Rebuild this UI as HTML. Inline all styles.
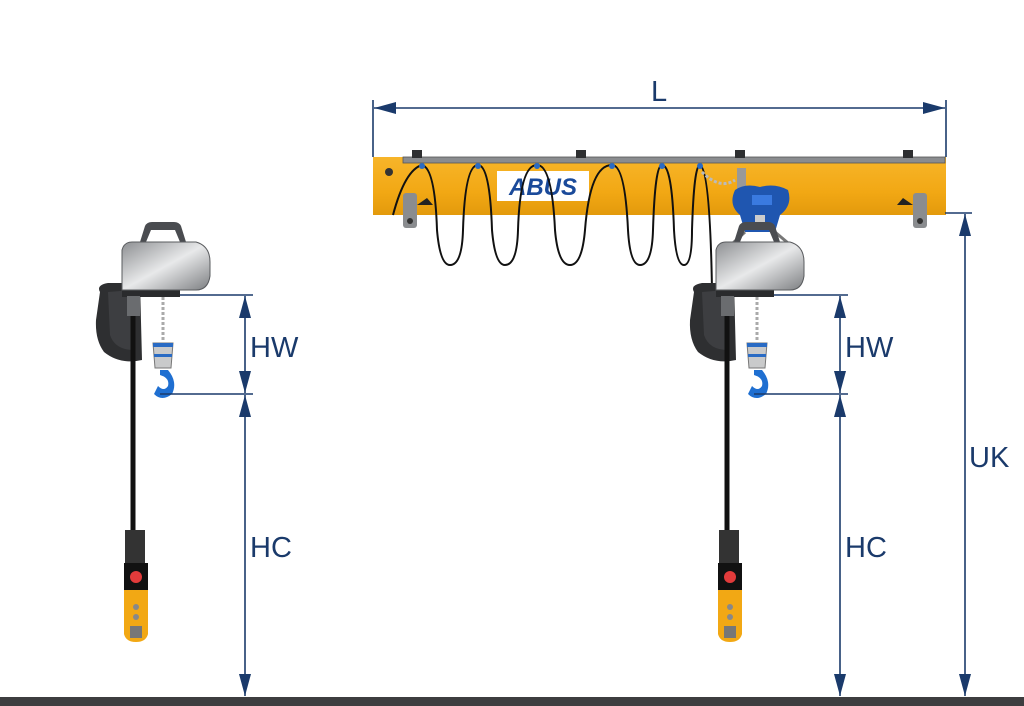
<!DOCTYPE html>
<html><head><meta charset="utf-8"><style>
html,body{margin:0;padding:0;background:#fff;width:1024px;height:706px;overflow:hidden}
text{font-family:"Liberation Sans",sans-serif;font-weight:300}
</style></head><body>
<svg width="1024" height="706" viewBox="0 0 1024 706" xmlns="http://www.w3.org/2000/svg">
<defs>
<linearGradient id="gb" x1="0" y1="0" x2="1" y2="1">
<stop offset="0" stop-color="#8d8f92"/><stop offset="0.5" stop-color="#e8e9ea"/><stop offset="1" stop-color="#7d7f82"/></linearGradient>
<linearGradient id="yb" x1="0" y1="0" x2="0" y2="1">
<stop offset="0" stop-color="#f7b52a"/><stop offset="0.6" stop-color="#f2a814"/><stop offset="1" stop-color="#e39a0c"/></linearGradient>
<marker id="a" viewBox="0 0 22 12" refX="22" refY="6" markerWidth="22" markerHeight="12" orient="auto-start-reverse" markerUnits="userSpaceOnUse">
<path d="M0,0 L22,6 L0,12 z" fill="#1a3a6b"/></marker>
<g id="hoist">
<path d="M140,242 L145,226 Q147,222 152,222 L174,222 Q179,222 181,226 L186,242 L180,242 L175,230 L151,230 L146,242 z" fill="#4a4c50"/>
<path d="M100,292 Q96,285 108,283 L140,283 L142,360 Q120,365 104,352 Q95,340 96,320 z" fill="#2e2f31"/>
<path d="M108,292 L132,290 L134,350 Q115,350 110,335 z" fill="#3d3e41"/>
<rect x="122" y="282" width="58" height="15" fill="#2a2b2d"/>
<path d="M122,250 Q124,242 132,242 L196,242 Q210,246 210,262 L210,276 Q208,290 196,290 L122,290 z" fill="url(#gb)" stroke="#5a5c5f" stroke-width="1"/>
<rect x="127" y="296" width="13" height="20" fill="#6a6c6f"/>
<line x1="133" y1="316" x2="133" y2="530" stroke="#111" stroke-width="5"/>
<line x1="163" y1="297" x2="163" y2="342" stroke="#aaa" stroke-width="3" stroke-dasharray="3,2"/>
<path d="M153,343 L173,343 L171,368 L155,368 z" fill="#c9cacb" stroke="#777"/>
<rect x="153" y="343" width="20" height="4" fill="#2a6bc4"/>
<rect x="154" y="354" width="18" height="3" fill="#2a6bc4"/>
<path d="M160,370 L168,370 Q178,382 172,394 Q162,402 154,394 L158,386 Q164,392 168,386 Q170,378 160,375 z" fill="#1f6fd1"/>
<rect x="125" y="530" width="20" height="35" fill="#333"/>
<rect x="124" y="563" width="24" height="28" fill="#111"/>
<circle cx="136" cy="577" r="6" fill="#e23b3b"/>
<path d="M124,590 L148,590 L148,634 Q146,642 136,642 Q126,642 124,634 z" fill="#f2a814"/>
<circle cx="136" cy="607" r="3" fill="#888"/><circle cx="136" cy="617" r="3" fill="#888"/>
<rect x="130" y="626" width="12" height="12" fill="#777"/>
</g>
</defs>

<rect x="373" y="157" width="573" height="58" fill="url(#yb)"/>
<rect x="403" y="157" width="542" height="6" fill="#8a8c8f" stroke="#555" stroke-width="0.8"/>
<g fill="#2e2f31">
<rect x="412" y="150" width="10" height="8"/><rect x="576" y="150" width="10" height="8"/><rect x="735" y="150" width="10" height="8"/><rect x="903" y="150" width="10" height="8"/>
</g>
<circle cx="389" cy="172" r="4" fill="#333"/>
<rect x="403" y="193" width="14" height="35" rx="3" fill="#8a8c8f"/><circle cx="410" cy="221" r="3" fill="#333"/>
<rect x="913" y="193" width="14" height="35" rx="3" fill="#8a8c8f"/><circle cx="920" cy="221" r="3" fill="#333"/>
<path d="M417,205 L427,198 L433,205 z" fill="#222"/><path d="M913,205 L903,198 L897,205 z" fill="#222"/>
<rect x="497" y="171" width="92" height="30" fill="#fff"/>
<text x="543" y="195" text-anchor="middle" font-size="24" font-style="italic" fill="#1a4a9a" style="font-weight:bold">ABUS</text>
<path d="M393,215 Q405,170 422,165 Q435,168 437,230 Q440,265 450,265 Q462,265 463,230 Q465,165 478,165 Q490,165 492,230 Q495,265 505,265 Q517,265 518,230 Q520,165 537,165 Q552,165 555,230 Q558,265 570,265 Q582,265 585,230 Q590,165 612,165 Q625,165 628,230 Q630,265 640,265 Q652,265 653,230 Q655,165 662,165 Q672,165 674,230 Q676,265 684,265 Q692,265 692,230 Q694,165 700,165 Q710,170 712,290" fill="none" stroke="#111" stroke-width="2"/>
<g fill="#2a6bc4"><circle cx="422" cy="166" r="3"/><circle cx="478" cy="166" r="3"/><circle cx="537" cy="166" r="3"/><circle cx="612" cy="166" r="3"/><circle cx="662" cy="166" r="3"/><circle cx="700" cy="166" r="3"/></g>
<path d="M702,172 Q720,190 735,180" fill="none" stroke="#bbb" stroke-width="3" stroke-dasharray="3,2"/>
<rect x="737" y="168" width="9" height="30" fill="#999"/>
<path d="M735,190 Q745,183 760,187 Q775,183 788,190 Q793,205 780,215 L775,232 L745,232 L740,215 Q728,205 735,190 z" fill="#1f56b0"/>
<rect x="752" y="195" width="20" height="10" fill="#3a7ae0"/>
<path d="M745,232 L733,243 M775,232 L788,243" stroke="#777" stroke-width="3"/>
<rect x="755" y="215" width="10" height="15" fill="#ccc"/>

<use href="#hoist"/>
<use href="#hoist" transform="translate(594,0)"/>

<g stroke="#1a3a6b" stroke-width="1.6" fill="none">
<line x1="373" y1="100" x2="373" y2="157"/><line x1="946" y1="100" x2="946" y2="157"/>
<line x1="374" y1="108" x2="945" y2="108" marker-start="url(#a)" marker-end="url(#a)"/>
<line x1="945" y1="213" x2="972" y2="213"/>
<line x1="965" y1="214" x2="965" y2="696" marker-start="url(#a)" marker-end="url(#a)"/>
<line x1="180" y1="295" x2="253" y2="295"/><line x1="160" y1="394" x2="253" y2="394"/>
<line x1="245" y1="296" x2="245" y2="393" marker-start="url(#a)" marker-end="url(#a)"/>
<line x1="245" y1="395" x2="245" y2="696" marker-start="url(#a)" marker-end="url(#a)"/>
<line x1="774" y1="295" x2="848" y2="295"/><line x1="754" y1="394" x2="848" y2="394"/>
<line x1="840" y1="296" x2="840" y2="393" marker-start="url(#a)" marker-end="url(#a)"/>
<line x1="840" y1="395" x2="840" y2="696" marker-start="url(#a)" marker-end="url(#a)"/>
</g>
<g fill="#1a3a6b" font-size="29">
<text x="651" y="101">L</text>
<text x="250" y="357">HW</text><text x="250" y="557">HC</text>
<text x="845" y="357">HW</text><text x="845" y="557">HC</text>
<text x="969" y="467">UK</text>
</g>
<rect x="0" y="697" width="1024" height="9" fill="#3d3d3f"/>
</svg>
</body></html>
